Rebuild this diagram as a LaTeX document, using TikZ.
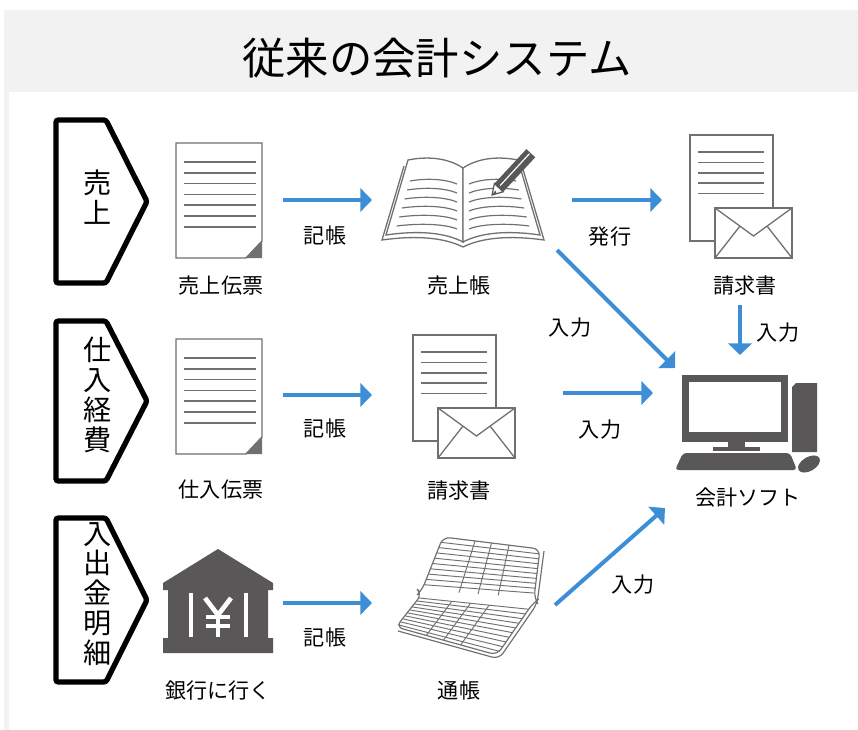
\documentclass[tikz,border=0pt]{standalone}
\usepackage{fontspec}
\setmainfont{Noto Sans CJK JP}
\usetikzlibrary{arrows.meta,calc}

\definecolor{flowblue}{HTML}{3D8ED6}
\definecolor{icongray}{HTML}{595757}
\definecolor{rulegray}{HTML}{707070}
\definecolor{bandgray}{HTML}{F2F2F2}

% document with a dog-ear, #1,#2 = top left corner
\newcommand\slipicon[2]{%
  \begin{scope}[shift={(#1,#2)}]
    \draw[doc] (0,0) -- (86,0) -- (86,98) -- (70,115) -- (0,115) -- cycle;
    \fill[rulegray] (86,98) -- (86,115) -- (70,115) -- cycle;
    \foreach \k in {0,...,6}
      \draw[rule] (8,{19+10.8*\k}) -- (80,{19+10.8*\k});
  \end{scope}}

% sheet with an envelope in front of it
\newcommand\lettericon[2]{%
  \begin{scope}[shift={(#1,#2)}]
    \draw[doc] (0,0) rectangle (83,106);
    \foreach \k in {0,...,4}
      \draw[rule] (8,{17+10.4*\k}) -- (74,{17+10.4*\k});
    \draw[doc] (25,73) rectangle (102,123);
    \draw[rule,line width=1.1pt] (25,73) -- (63.5,101) -- (102,73);
    \draw[rule,line width=1.1pt] (25,123) -- (50,91);
    \draw[rule,line width=1.1pt] (102,123) -- (77,91);
  \end{scope}}

% pentagon tab on the left, #1 = top, #2 = bottom
\newcommand\sidetab[2]{%
  \draw[tab] (56,#1) -- (106,#1) -- (147,{(#1+#2)/2}) -- (106,#2) -- (56,#2) -- cycle;}

\begin{document}
\begin{tikzpicture}[x=0.3mm,y=-0.3mm,
  doc/.style={draw=rulegray,line width=1.2pt,fill=white},
  rule/.style={rulegray,line width=1.3pt},
  flow/.style={draw=flowblue,line width=3.4pt,-{Triangle[length=10pt,width=20pt]}},
  tab/.style={draw=black,line width=4.5pt,rounded corners=2pt,fill=white},
  tabtext/.style={font=\fontsize{24}{25.5}\selectfont,align=center,inner sep=0pt},
  caption/.style={font=\fontsize{18}{20}\selectfont,inner sep=0pt},
  verb/.style={font=\fontsize{18}{20}\selectfont,inner sep=0pt}]

  \useasboundingbox (0,0) rectangle (858,730);
  % frame and title band
  \fill[bandgray] (4,10) rectangle (858,730);
  \fill[white] (9,92) rectangle (858,730);
  \node[font=\fontsize{37}{40}\selectfont,inner sep=0pt] (title) at (437,58) {従来の会計システム};

  % row tabs
  \sidetab{120}{283}
  \sidetab{321}{481}
  \sidetab{518}{682}
  \node[tabtext] (sales) at (98,197) {売\\上};
  \node[tabtext] (purchase) at (98,395) {仕\\入\\経\\費};
  \node[tabtext] (cash) at (98,594) {入\\出\\金\\明\\細};

  % sales slip and purchase slip
  \slipicon{176}{143}
  \slipicon{176}{339}
  \node[caption] (slipA) at (221,285) {売上伝票};
  \node[caption] (slipB) at (221,490) {仕入伝票};

  % sales ledger: open book with pencil
  \begin{scope}
    \draw[rule,line width=1.1pt] (404,166) -- (382,240) .. controls (418,235) and (445,238) .. (463,247)
      .. controls (481,238) and (508,235) .. (544,240) -- (522,166);
    \draw[doc,line width=1.1pt] (463,168) .. controls (448,158) and (428,156) .. (408,160) -- (386,235)
      .. controls (420,230) and (446,233) .. (463,242) -- cycle;
    \draw[doc,line width=1.1pt] (463,168) .. controls (478,158) and (498,156) .. (518,160) -- (540,235)
      .. controls (506,230) and (480,233) .. (463,242) -- cycle;
    \foreach \y in {181,190,...,226} {
      \draw[rule,line width=1pt] ({408-(\y-160)*0.293+8},\y) .. controls ({430-(\y-160)*0.15},{\y-3}) and (445,{\y-2}) .. (457,{\y+3});
      \draw[rule,line width=1pt] (469,{\y+3}) .. controls (481,{\y-2}) and ({496+(\y-160)*0.15},{\y-3}) .. ({518+(\y-160)*0.293-8},\y);
    }
    % pencil
    \fill[icongray] (503.2,191.8) -- (494.4,183.6) -- (526.4,149.1) -- (535.2,157.3) -- cycle;
    \draw[white,line width=1pt] (500.2,185.5) -- (529.5,153.6);
    \draw[icongray,fill=white,line width=1pt] (503.2,191.8) -- (494.4,183.6) -- (492,195) -- cycle;
    \fill[icongray] (492,195) -- (495.3,190.5) -- (496.6,193.3) -- cycle;
  \end{scope}
  \node[caption] (ledger) at (459,285) {売上帳};

  % invoices
  \lettericon{690}{135}
  \lettericon{413}{335}
  \node[caption] (invoiceA) at (745,285) {請求書};
  \node[caption] (invoiceB) at (459,490) {請求書};

  % bank
  \fill[icongray] (218,549) -- (273,583) -- (273,590) -- (268,590) -- (268,638) -- (273,638)
    -- (273,653) -- (163,653) -- (163,638) -- (168,638) -- (168,590) -- (163,590) -- (163,583) -- cycle;
  \fill[white] (189,593) rectangle (193,637);
  \fill[white] (244,593) rectangle (248,637);
  \draw[white,line width=4pt] (205,598) -- (218,615) -- (231,598);
  \draw[white,line width=4pt] (218,615) -- (218,637);
  \draw[white,line width=3.5pt] (206,617) -- (230,617);
  \draw[white,line width=3.5pt] (206,626) -- (230,626);
  \node[caption] (bank) at (218,690) {銀行に行く};

  % passbook
  \coordinate (pA) at (443,537);
  \coordinate (pB) at (540,549);
  \coordinate (pC) at (534,598);
  \coordinate (pD) at (422,590);
  \coordinate (qD) at (422,594);
  \coordinate (qC) at (533,603);
  \coordinate (qE) at (497,655);
  \coordinate (qF) at (396,627);
  \coordinate (qG) at ($(qD)!0.12!(qF)$);
  \coordinate (qH) at ($(qC)!0.12!(qE)$);
  \draw[rule,line width=1pt,rounded corners=6pt] (398,631) -- (499,659) -- (537,604) -- (544,551);
  \draw[doc,line width=1pt,rounded corners=6pt] (pA) -- (pB) -- (pC) .. controls (536,601) .. (qC)
    -- (qE) -- (qF) -- (qD) .. controls (420,592) .. (pD) -- cycle;
  \foreach \t in {0.1,0.2,...,0.91}
    \draw[rule,line width=0.8pt] ($(pA)!\t!(pD)$) -- ($(pB)!\t!(pC)$);
  \foreach \s in {0.33,0.5,0.68}
    \draw[rule,line width=0.8pt] ($(pA)!\s!(pB)$) -- ($(pD)!\s!(pC)$);
  \foreach \t in {0.12,0.21,...,0.95}
    \draw[rule,line width=0.8pt] ($(qD)!\t!(qF)$) -- ($(qC)!\t!(qE)$);
  \foreach \s in {0.3,0.47,0.64}
    \draw[rule,line width=0.8pt] ($(qG)!\s!(qH)$) -- ($(qF)!\s!(qE)$);
  \node[caption] (passbook) at (459,690) {通帳};

  % accounting software: computer
  \fill[icongray] (682,375) rectangle (788,442);
  \fill[white] (689,382) rectangle (781,432);
  \fill[icongray] (728,441) rectangle (745,448);
  \fill[icongray] (713,447) rectangle (760,451);
  \fill[icongray,rounded corners=3pt] (683,453) -- (790,453) -- (797,470) -- (675,470) -- cycle;
  \fill[icongray] (796,383) -- (817,383) -- (817,452) -- (792,452) -- (792,387) -- cycle;
  \fill[icongray] (809,464) ellipse [x radius=12, y radius=7, rotate=30];
  \node[caption] (software) at (748,498) {会計ソフト};

  % arrow end points
  \coordinate (s1) at (283,200);   \coordinate (e1) at (372,200);
  \coordinate (s2) at (572,200);   \coordinate (e2) at (662,200);
  \coordinate (s3) at (740,305);   \coordinate (e3) at (740,355);
  \coordinate (s4) at (557,250);   \coordinate (e4) at (675,368);
  \coordinate (s5) at (283,395);   \coordinate (e5) at (372,395);
  \coordinate (s6) at (563,393);   \coordinate (e6) at (653,393);
  \coordinate (s7) at (283,603);   \coordinate (e7) at (372,603);
  \coordinate (s8) at (555,605);   \coordinate (e8) at (665,508);

  \draw[flow] (s1) -- (e1);
  \draw[flow] (s2) -- (e2);
  \draw[flow] (s3) -- (e3);
  \draw[flow] (s4) -- (e4);
  \draw[flow] (s5) -- (e5);
  \draw[flow] (s6) -- (e6);
  \draw[flow] (s7) -- (e7);
  \draw[flow] (s8) -- (e8);

  % arrow labels
  \node[verb] (post1) at (325,235) {記帳};
  \node[verb] (issue) at (610,237) {発行};
  \node[verb] (in1) at (778,333) {入力};
  \node[verb] (in2) at (570,328) {入力};
  \node[verb] (post2) at (325,428) {記帳};
  \node[verb] (in3) at (600,430) {入力};
  \node[verb] (post3) at (325,637) {記帳};
  \node[verb] (in4) at (633,585) {入力};
\end{tikzpicture}
\end{document}
